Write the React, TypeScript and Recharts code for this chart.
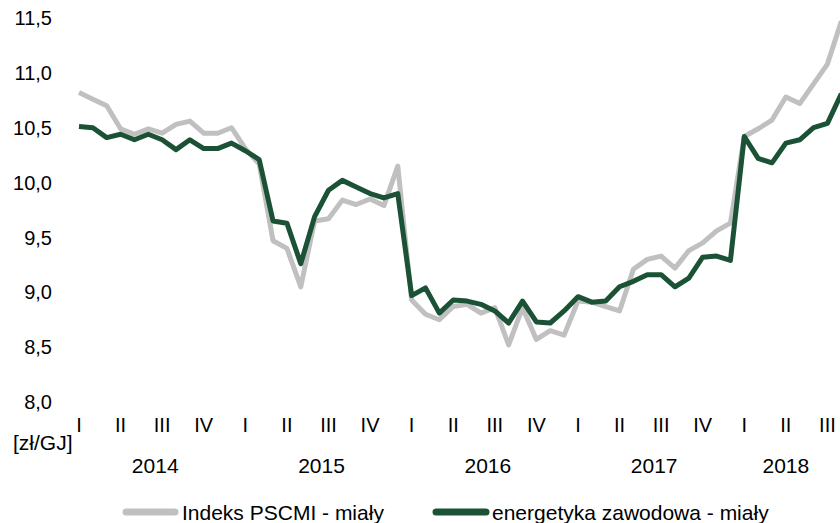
// @ts-nocheck
import { LineChart, Line, XAxis, YAxis } from "recharts";

// monthly prices, Jan 2014 – Aug 2018 [zł/GJ]
const months = [
  "2014-01", "2014-02", "2014-03", "2014-04", "2014-05", "2014-06", "2014-07", "2014-08", "2014-09", "2014-10", "2014-11", "2014-12",
  "2015-01", "2015-02", "2015-03", "2015-04", "2015-05", "2015-06", "2015-07", "2015-08", "2015-09", "2015-10", "2015-11", "2015-12",
  "2016-01", "2016-02", "2016-03", "2016-04", "2016-05", "2016-06", "2016-07", "2016-08", "2016-09", "2016-10", "2016-11", "2016-12",
  "2017-01", "2017-02", "2017-03", "2017-04", "2017-05", "2017-06", "2017-07", "2017-08", "2017-09", "2017-10", "2017-11", "2017-12",
  "2018-01", "2018-02", "2018-03", "2018-04", "2018-05", "2018-06", "2018-07", "2018-08",
];

const pscmi = [
  10.82, 10.76, 10.70, 10.49, 10.44, 10.49, 10.45, 10.53, 10.56, 10.45, 10.45, 10.50,
  10.31, 10.17, 9.47, 9.40, 9.05, 9.65, 9.67, 9.84, 9.80, 9.85, 9.79, 10.15,
  8.93, 8.80, 8.75, 8.87, 8.89, 8.81, 8.86, 8.52, 8.86, 8.57, 8.65, 8.61,
  8.92, 8.91, 8.87, 8.83, 9.21, 9.30, 9.33, 9.22, 9.38, 9.45, 9.56, 9.63,
  10.42, 10.49, 10.57, 10.78, 10.72, 10.90, 11.08, 11.47,
];

const energetyka = [
  10.51, 10.50, 10.41, 10.44, 10.39, 10.44, 10.39, 10.30, 10.39, 10.31, 10.31, 10.36,
  10.29, 10.21, 9.65, 9.63, 9.26, 9.69, 9.93, 10.02, 9.96, 9.90, 9.86, 9.90,
  8.97, 9.04, 8.81, 8.93, 8.92, 8.89, 8.83, 8.72, 8.92, 8.73, 8.72, 8.83,
  8.96, 8.91, 8.92, 9.05, 9.10, 9.16, 9.16, 9.05, 9.13, 9.32, 9.33, 9.29,
  10.42, 10.22, 10.18, 10.36, 10.39, 10.50, 10.54, 10.81,
];

const quarterTicks = [0, 3, 6, 9, 12, 15, 18, 21, 24, 27, 30, 33, 36, 39, 42, 45, 48, 51, 54];
const quarterNames = ["I", "II", "III", "IV"];
const yearTicks = [5.5, 17.5, 29.5, 41.5, 51];
const yearLabels = ["2014", "2015", "2016", "2017", "2018"];
const yTicks = [8, 8.5, 9, 9.5, 10, 10.5, 11, 11.5];

const FONT = "'Liberation Sans', Arial, sans-serif";
const GRAY = "#c0c0c0";
const GREEN = "#1b5236";

const data = months.map((m, i) => ({ i, month: m, pscmi: pscmi[i], energetyka: energetyka[i] }));

export default function App() {
  return (
    <div style={{ position: "absolute", left: 0, top: 0, width: 840, height: 523, overflow: "hidden", background: "#fff", fontFamily: FONT }}>
      <LineChart width={900} height={523} data={data} margin={{ top: 18, right: 58.7, bottom: 41, left: 0 }}>
        <XAxis
          xAxisId="q"
          type="number"
          dataKey="i"
          domain={[0, 55]}
          ticks={quarterTicks}
          interval={0}
          tickFormatter={(v: number) => quarterNames[(v / 3) % 4]}
          axisLine={false}
          tickLine={false}
          tickSize={0}
          tickMargin={16}
          height={40}
          tick={{ fontSize: 20, fill: "#000", fontFamily: FONT }}
        />
        <XAxis
          xAxisId="y"
          type="number"
          dataKey="i"
          domain={[0, 55]}
          ticks={yearTicks}
          interval={0}
          tickFormatter={(v: number) => yearLabels[yearTicks.indexOf(v)]}
          axisLine={false}
          tickLine={false}
          tickSize={0}
          tickMargin={16}
          height={40}
          tick={{ fontSize: 21, fill: "#000", fontFamily: FONT }}
        />
        <YAxis
          domain={[8, 11.5]}
          ticks={yTicks}
          interval={0}
          width={79}
          axisLine={false}
          tickLine={false}
          tickSize={0}
          tickMargin={27}
          tickFormatter={(v: number) => v.toFixed(1).replace(".", ",")}
          tick={{ fontSize: 20, fill: "#000", fontFamily: FONT }}
        />
        <Line xAxisId="q" type="linear" dataKey="pscmi" stroke={GRAY} strokeWidth={5} strokeLinejoin="round" dot={false} isAnimationActive={false} />
        <Line xAxisId="q" type="linear" dataKey="energetyka" stroke={GREEN} strokeWidth={5} strokeLinejoin="round" dot={false} isAnimationActive={false} />
      </LineChart>
      <svg width={840} height={523} style={{ position: "absolute", left: 0, top: 0, pointerEvents: "none" }}>
        <text x={13} y={450} fontSize={21} fill="#000" fontFamily={FONT}>[zł/GJ]</text>
        <line x1={126} y1={512} x2={175} y2={512} stroke={GRAY} strokeWidth={7} strokeLinecap="round" />
        <text x={182} y={520} fontSize={21} fill="#000" fontFamily={FONT}>Indeks PSCMI - miały</text>
        <line x1={436} y1={512} x2={486} y2={512} stroke={GREEN} strokeWidth={7} strokeLinecap="round" />
        <text x={492} y={520} fontSize={21} fill="#000" fontFamily={FONT}>energetyka zawodowa - miały</text>
      </svg>
    </div>
  );
}
